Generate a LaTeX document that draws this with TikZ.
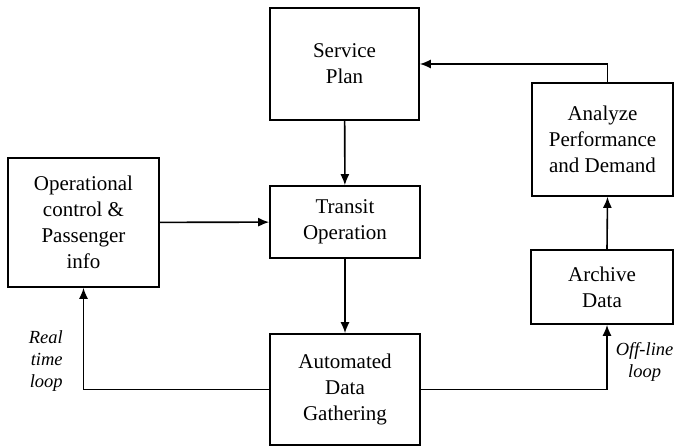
\documentclass[tikz,border=0pt]{standalone}
\usepackage{fontspec}
\setmainfont{Liberation Serif}
\usepackage{tikz}
\usetikzlibrary{arrows.meta,positioning}

\begin{document}
\begin{tikzpicture}[->,>={Latex[length=11pt,width=9pt]},x=1pt,y=1pt,
    line width=1.6pt,
    block/.style={rectangle,draw,align=center,inner sep=2pt,
      font=\fontsize{21}{26}\selectfont},
    loop label/.style={inner sep=0pt,font=\fontsize{18.5}{22}\selectfont\itshape}]

  \useasboundingbox (0,0) rectangle (674,447);

  \node[block,minimum width=149pt,minimum height=112pt] (plan)     at (344.5,383)   {Service\\Plan};
  \node[block,minimum width=141pt,minimum height=113pt] (analyze)  at (602.5,307.5) {Analyze\\Performance\\and Demand};
  \node[block,minimum width=151pt,minimum height=129pt] (control)  at (83.5,224.5)  {Operational\\control \&\\Passenger\\info};
  \node[block,minimum width=150pt,minimum height=72pt]  (transit)  at (345,225)     {Transit\\Operation};
  \node[block,minimum width=142pt,minimum height=74pt]  (archive)  at (602,160)     {Archive\\Data};
  \node[block,minimum width=150pt,minimum height=111pt] (gather)   at (345,57.5)    {Automated\\Data\\Gathering};

  % Main chain
  \path (plan) edge (transit);
  \path (control) edge (transit);
  \path (transit) edge (gather);

  % Real time loop
  \draw (gather.west) -| (control.south)
    node[loop label,pos=0.64,left=20pt,align=right] {Real\\time\\loop};

  % Off-line loop
  \draw (gather.east) -| ([xshift=5pt]archive.south)
    node[loop label,pos=0.71,right=8pt,align=center] {Off-line\\loop};
  \draw ([xshift=5pt]archive.north) -- ([xshift=5pt]analyze.south);
  \draw ([xshift=5pt]analyze.north) |- (plan.east);

\end{tikzpicture}
\end{document}
